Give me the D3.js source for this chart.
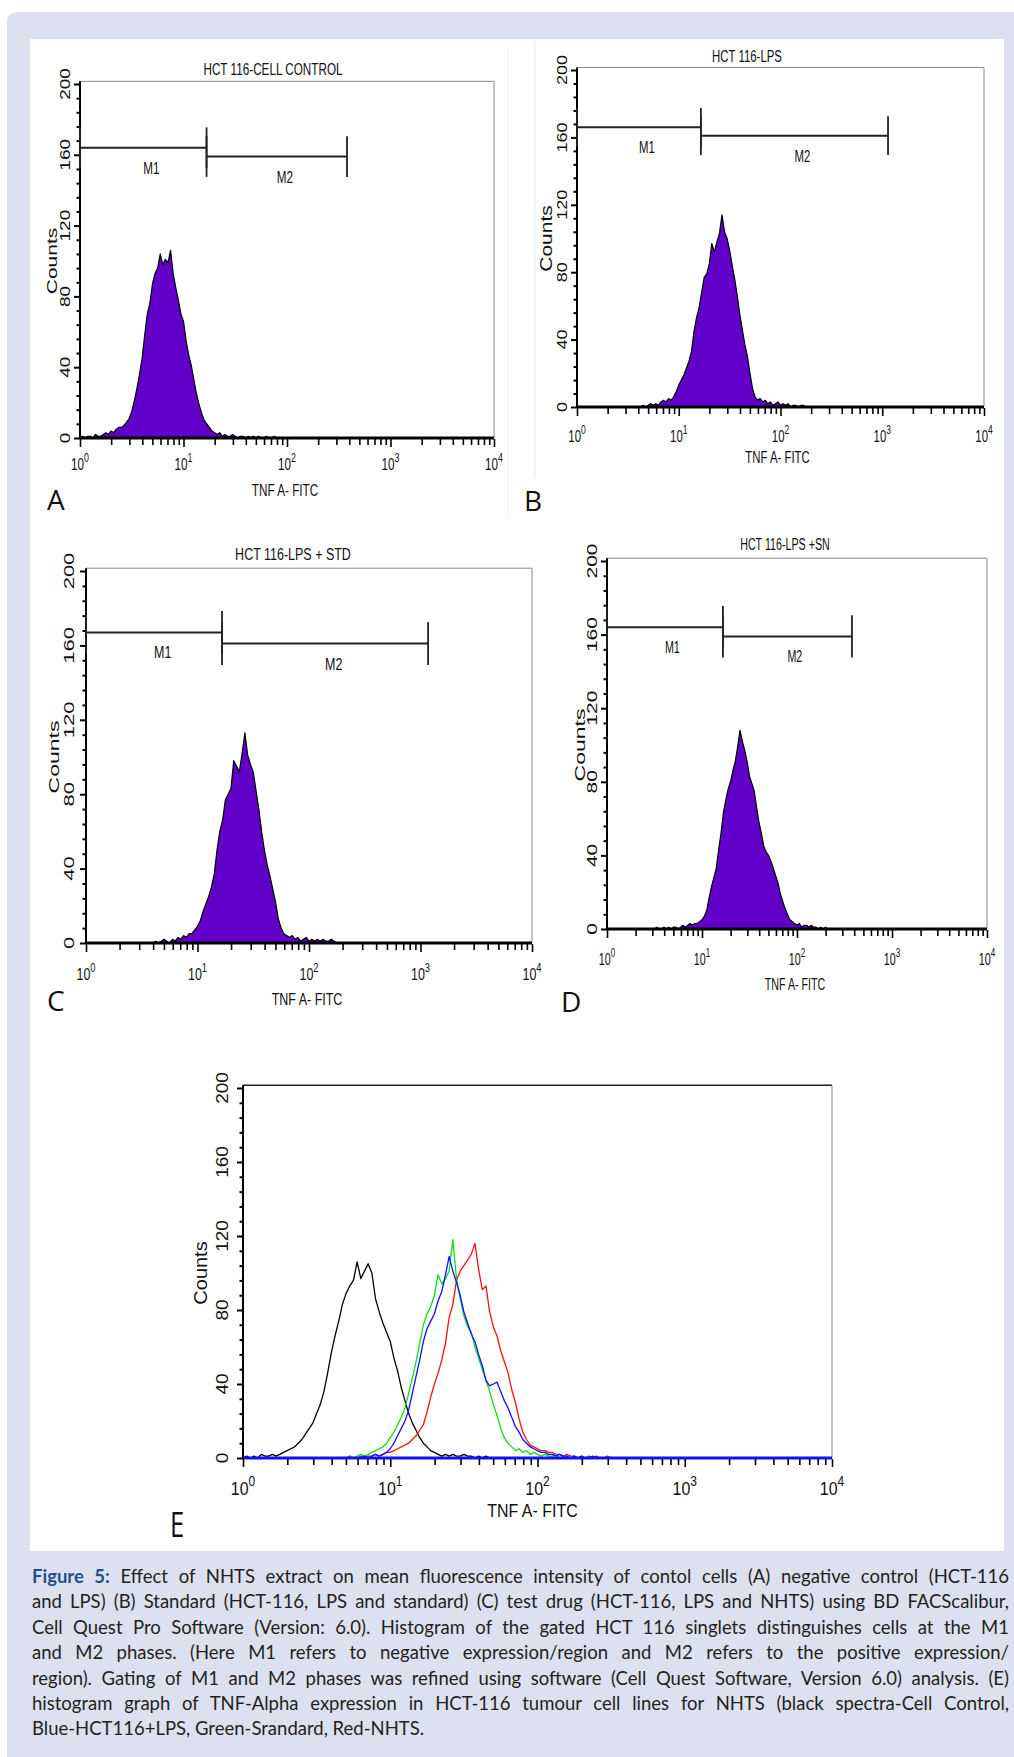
<!DOCTYPE html>
<html><head><meta charset="utf-8">
<script src="https://cdn.jsdelivr.net/npm/d3@7"></script>
<style>body{margin:0;background:#fff}svg{display:block}</style>
</head><body><div id="c"></div>
<script>
// ---------------- DATA ----------------
const logStep = 0.025;               // channel width in decades
const decades = [1, 10, 100, 1000, 10000];
const decadeExponents = ["0", "1", "2", "3", "4"];
const yMajorTicks = [0, 40, 80, 120, 160, 200];
const markerNames = ["M1", "M2"];

const histA_start = 0.0;
const histA = [0,1,0,1,1,0,2,1,1,2,3,2,4,3,5,6,6,7,9,11,15,21,28,36,45,58,70,76,87,93,96,104,98,101,99,106,93,85,78,70,66,55,47,41,33,25,19,14,10,8,6,4,3,2,3,1,2,1,1,2,1,0,1,1,0,1,0,1,0,1,0,0,1,0,0,1,0];
const histB_start = 0.6;
const histB = [0,0,1,0,1,2,1,2,1,3,4,3,5,4,6,9,13,16,19,23,27,33,45,53,59,68,77,79,85,97,92,98,103,114,104,100,93,84,76,66,55,46,37,30,20,11,6,4,5,3,4,2,3,1,2,3,1,2,1,2,0,1,1,0,1,1,0];
const histC_start = 0.6;
const histC = [0,1,0,1,2,1,0,2,1,3,2,4,3,5,5,7,9,12,17,21,25,30,37,50,60,66,77,80,83,98,95,92,102,113,101,96,92,82,72,60,50,42,36,29,22,13,8,5,4,3,4,2,3,1,2,3,1,2,1,2,1,2,1,1,2,1,0];
const histD_start = 0.5;
const histD = [0,1,0,0,1,0,1,0,1,1,0,1,2,1,2,3,2,3,3,4,5,7,10,17,23,28,33,43,52,63,70,76,80,86,91,99,108,102,97,91,83,79,75,66,58,52,45,42,40,37,33,29,25,19,15,11,8,5,4,3,2,3,1,2,2,1,2,1,1,0,1,0,1,0];

const overlayBlack_start = 0.0;
const overlayBlack = [0,1,0,1,0,2,1,1,2,1,2,3,4,5,6,8,10,13,16,19,24,29,36,46,57,66,74,83,89,93,96,106,97,101,105,100,86,79,73,68,63,54,47,38,31,24,19,15,11,8,6,4,3,2,1,2,1,2,1,1,2,1,1,0,1,0,1,0,0];
const overlayRed_start = 0.7;
const overlayRed = [0,1,0,0,1,0,1,1,2,1,2,3,3,4,5,6,7,8,10,12,15,18,25,33,40,46,53,62,76,83,96,101,104,107,110,116,102,91,93,79,71,66,58,52,46,37,30,21,14,10,7,6,5,4,4,3,3,2,2,1,2,1,1,0,1,0,1,0,1,0,0,1,0];
const overlayGreen_start = 0.7;
const overlayGreen = [0,1,0,1,2,1,2,3,4,5,6,8,11,14,18,22,27,35,43,52,62,72,78,82,88,99,94,97,101,118,97,86,77,71,68,60,54,48,42,36,29,23,16,11,8,6,4,5,3,4,2,3,2,1,2,1,1,2,0,1,1,0,1,0,0];
const overlayBlue_start = 0.8;
const overlayBlue = [0,1,0,1,2,1,2,3,5,8,12,16,20,26,35,44,53,63,70,74,78,85,90,99,109,101,95,88,79,73,67,63,56,50,42,39,40,41,36,31,27,22,17,14,10,8,6,5,4,3,3,2,2,1,2,1,1,0,1,0,1,0,0,1,0];

// marker gates (FITC values) and marker levels (counts)
const gatesA = [[1, 16.7], [16.7, 380]];   const levelsA = [164, 159];
const gatesB = [[1, 16.5], [16.5, 1140]];  const levelsB = [166, 161];
const gatesC = [[1, 16.6], [16.6, 1170]];  const levelsC = [167, 161];
const gatesD = [[1, 16.6], [16.6, 379]];   const levelsD = [164, 159];

const titles = ["HCT 116-CELL CONTROL", "HCT 116-LPS", "HCT 116-LPS + STD", "HCT 116-LPS +SN"];
const panelLetters = ["A", "B", "C", "D", "E"];
const xLabel = "TNF A- FITC";
const yLabel = "Counts";

const captionLines = [
  "Figure 5: Effect of NHTS extract on mean fluorescence intensity of contol cells (A) negative control (HCT-116",
  "and LPS) (B) Standard (HCT-116, LPS and standard) (C) test drug (HCT-116, LPS and NHTS) using BD FACScalibur,",
  "Cell Quest Pro Software (Version: 6.0). Histogram of the gated HCT 116 singlets distinguishes cells at the M1",
  "and M2 phases. (Here M1 refers to negative expression/region and M2 refers to the positive expression/",
  "region). Gating of M1 and M2 phases was refined using software (Cell Quest Software, Version 6.0) analysis. (E)",
  "histogram graph of TNF-Alpha expression in HCT-116 tumour cell lines for NHTS (black spectra-Cell Control,",
  "Blue-HCT116+LPS, Green-Srandard, Red-NHTS."
];

// ---------------- LAYOUT ----------------
const W = 1014, H = 1757;
const FONT = "'Liberation Sans', Arial, Helvetica, sans-serif";
const PURPLE = "#6000c8";
const frameTop = 201.5;
const barHalf = 11.5;

const svg = d3.select("#c").append("svg").attr("width", W).attr("height", H);
svg.append("rect").attr("width", W).attr("height", H).attr("fill", "#fff");
svg.append("rect").attr("x", 7).attr("y", 12).attr("width", W + 20).attr("height", H + 20).attr("rx", 9).attr("fill", "#dde1ef");
svg.append("rect").attr("x", 30).attr("y", 39).attr("width", 974).attr("height", 1512).attr("fill", "#fff");
// faint sub-image borders
svg.append("line").attr("x1", 508).attr("x2", 508).attr("y1", 47).attr("y2", 518).attr("stroke", "#ececec");
svg.append("line").attr("x1", 535).attr("x2", 535).attr("y1", 40).attr("y2", 478).attr("stroke", "#ececec");

function hText(g, x, y, sx, size, anchor) {
  return g.append("text").attr("transform", `translate(${x},${y}) scale(${sx},1)`)
    .attr("text-anchor", anchor || "middle").attr("font-family", FONT).attr("font-size", size).attr("fill", "#111");
}
function vText(g, x, y, k, size) {
  return g.append("text").attr("transform", `translate(${x},${y}) rotate(-90) scale(1,${k})`)
    .attr("text-anchor", "middle").attr("font-family", FONT).attr("font-size", size).attr("fill", "#111");
}

function drawPanel(p) {
  const g = svg.append("g");
  const x = d3.scaleLog().domain([1, 1e4]).range([p.x0, p.x1]);
  const y = d3.scaleLinear().domain([0, 200]).range([p.y0, p.y200]);
  const top = y(frameTop);

  // frame top / right
  g.append("line").attr("x1", x(1)).attr("x2", x(1e4)).attr("y1", top).attr("y2", top)
    .attr("stroke", p.topColor).attr("stroke-width", p.topW);
  g.append("line").attr("x1", x(1e4)).attr("x2", x(1e4)).attr("y1", top).attr("y2", y(0))
    .attr("stroke", "#8a8a8a").attr("stroke-width", 1);

  // histograms
  p.series.forEach(s => {
    const pts = [[1, 0]].concat(s.counts.map((c, i) => [Math.pow(10, s.start + i * logStep), c]), [[1e4, 0]]);
    if (s.fill) {
      g.append("path").datum(pts)
        .attr("d", d3.area().x(d => x(d[0])).y0(y(0)).y1(d => y(d[1])))
        .attr("fill", s.fill);
    }
    g.append("path").datum(pts)
      .attr("d", d3.line().x(d => x(d[0])).y(d => y(d[1])))
      .attr("fill", "none").attr("stroke", s.color).attr("stroke-width", s.w || 1.2).attr("stroke-linejoin", "round");
  });
  // zero-count channels baseline
  g.append("line").attr("x1", x(1)).attr("x2", x(1e4)).attr("y1", y(0)).attr("y2", y(0))
    .attr("stroke", p.baseColor).attr("stroke-width", 2.8);

  // x axis ticks
  const minorX = [];
  [1, 10, 100, 1000].forEach(d => { for (let m = 2; m <= 9; m++) minorX.push(d * m); });
  const axMaj = g.append("g").attr("transform", `translate(0,${y(0) + 1})`)
    .call(d3.axisBottom(x).tickValues(decades).tickSize(8).tickSizeOuter(0).tickFormat(() => ""));
  const axMin = g.append("g").attr("transform", `translate(0,${y(0) + 1})`)
    .call(d3.axisBottom(x).tickValues(minorX).tickSize(6).tickSizeOuter(0).tickFormat(() => ""));
  [axMaj, axMin].forEach(a => { a.select(".domain").remove(); a.selectAll("line").attr("stroke", "#000").attr("stroke-width", 1.6); });

  // y axis
  g.append("line").attr("x1", x(1)).attr("x2", x(1)).attr("y1", top).attr("y2", y(0) + 1)
    .attr("stroke", "#000").attr("stroke-width", 2);
  const minorY = d3.range(8, 200, 8).filter(v => v % 40 !== 0);
  const ayMaj = g.append("g").attr("transform", `translate(${x(1)},0)`)
    .call(d3.axisLeft(y).tickValues(yMajorTicks).tickSize(6).tickSizeOuter(0).tickFormat(() => ""));
  const ayMin = g.append("g").attr("transform", `translate(${x(1)},0)`)
    .call(d3.axisLeft(y).tickValues(minorY).tickSize(3.5).tickSizeOuter(0).tickFormat(() => ""));
  [ayMaj, ayMin].forEach(a => { a.select(".domain").remove(); a.selectAll("line").attr("stroke", "#000").attr("stroke-width", 2); });

  // x tick labels 10^n
  decades.forEach((v, i) => {
    const t = hText(g, x(v), p.tickLabY, p.sx, p.fs);
    t.append("tspan").text("10");
    t.append("tspan").attr("dy", -0.45 * p.fs).attr("font-size", p.fs * 0.75).text(decadeExponents[i]);
  });
  // y tick labels
  yMajorTicks.forEach(v => { vText(g, p.ytlX, y(v), p.k, p.rfs).text(String(v)); });
  // axis titles
  vText(g, p.countsX, (y(0) + y(200)) / 2, p.k, p.cfs).text(yLabel);
  hText(g, (x(1) + x(1e4)) / 2 + p.tnfDx, p.axisLabY, p.sx, p.fs).text(xLabel);
  if (p.title) hText(g, p.titleX, p.titleY, p.sx, p.fs).text(p.title);

  // markers
  if (p.gates) {
    p.gates.forEach((gt, i) => {
      const lv = p.levels[i];
      g.append("line").attr("x1", x(gt[0])).attr("x2", x(gt[1])).attr("y1", y(lv)).attr("y2", y(lv))
        .attr("stroke", "#222").attr("stroke-width", 2);
      gt.forEach(v => {
        g.append("line").attr("x1", x(v)).attr("x2", x(v)).attr("y1", y(lv + barHalf)).attr("y2", y(lv - barHalf))
          .attr("stroke", "#222").attr("stroke-width", 1.8);
      });
      const mid = Math.pow(10, (Math.log10(gt[0]) + Math.log10(gt[1])) / 2);
      hText(g, x(mid), y(lv) + 26, p.sx, p.fs, "start").text(markerNames[i]);
    });
  }
  // panel letter
  g.append("text").attr("transform", `translate(${p.lx},${p.ly}) scale(${p.lsx},1)`)
    .attr("font-family", "'Open Sans', 'Noto Sans', sans-serif").attr("font-size", p.lfs).attr("fill", "#111")
    .text(p.letter);
}

const fillSeries = (start, counts) => [{ start: start, counts: counts, fill: PURPLE, color: "#000", w: 1.2 }];

const panels = [
  { x0: 80, x1: 494, y0: 438, y200: 84, title: titles[0], titleX: 273, titleY: 75, sx: 0.69, fs: 17,
    tickLabY: 470, axisLabY: 496, tnfDx: -2, ytlX: 70, countsX: 57, rfs: 19, cfs: 21, k: 0.73,
    letter: panelLetters[0], lx: 47, ly: 510, lfs: 28, lsx: 1, topColor: "#8a8a8a", topW: 1, baseColor: "#000",
    series: fillSeries(histA_start, histA), gates: gatesA, levels: levelsA },
  { x0: 577, x1: 984, y0: 407, y200: 70, title: titles[1], titleX: 747, titleY: 62, sx: 0.67, fs: 17,
    tickLabY: 442, axisLabY: 463, tnfDx: -3, ytlX: 567, countsX: 552, rfs: 18, cfs: 21, k: 0.78,
    letter: panelLetters[1], lx: 524, ly: 511, lfs: 28, lsx: 1, topColor: "#8a8a8a", topW: 1, baseColor: "#000",
    series: fillSeries(histB_start, histB), gates: gatesB, levels: levelsB },
  { x0: 86, x1: 532, y0: 943, y200: 571, title: titles[2], titleX: 293, titleY: 560, sx: 0.735, fs: 17,
    tickLabY: 980, axisLabY: 1005, tnfDx: -2, ytlX: 74, countsX: 58.5, rfs: 22, cfs: 23, k: 0.66,
    letter: panelLetters[2], lx: 47, ly: 1011, lfs: 28, lsx: 1, topColor: "#8a8a8a", topW: 1, baseColor: "#000",
    series: fillSeries(histC_start, histC), gates: gatesC, levels: levelsC },
  { x0: 607, x1: 987, y0: 929, y200: 561, title: titles[3], titleX: 785, titleY: 550, sx: 0.63, fs: 17,
    tickLabY: 965, axisLabY: 990, tnfDx: -2, ytlX: 597, countsX: 585, rfs: 21, cfs: 23, k: 0.67,
    letter: panelLetters[3], lx: 561, ly: 1012, lfs: 28, lsx: 1, topColor: "#8a8a8a", topW: 1, baseColor: "#000",
    series: fillSeries(histD_start, histD), gates: gatesD, levels: levelsD },
  { x0: 243, x1: 832, y0: 1458, y200: 1088, title: null, sx: 0.84, fs: 19,
    tickLabY: 1495, axisLabY: 1517, tnfDx: -5, ytlX: 228, countsX: 207, rfs: 19, cfs: 20, k: 0.88,
    letter: panelLetters[4], lx: 170, ly: 1537, lfs: 34, lsx: 0.75, topColor: "#222", topW: 1.4, baseColor: "#1010ff",
    series: [
      { start: overlayBlack_start, counts: overlayBlack, color: "#000", w: 1.3 },
      { start: overlayRed_start, counts: overlayRed, color: "#ff1010", w: 1.3 },
      { start: overlayGreen_start, counts: overlayGreen, color: "#10dd10", w: 1.3 },
      { start: overlayBlue_start, counts: overlayBlue, color: "#1010ff", w: 1.3 }
    ] }
];
panels.forEach(drawPanel);

// ---------------- CAPTION ----------------
const capX = 32, capW = 977, capY0 = 1583, capDy = 25.4;
captionLines.forEach((ln, i) => {
  const t = svg.append("text").attr("x", capX).attr("y", capY0 + i * capDy)
    .attr("font-family", "Lato, 'Open Sans', sans-serif").attr("font-size", 18.5).attr("fill", "#231f20");
  if (i === 0) {
    t.append("tspan").attr("font-weight", "bold").attr("fill", "#1f4f8f").text(ln.slice(0, 9));
    t.append("tspan").text(ln.slice(9));
  } else {
    t.text(ln);
  }
  if (i < captionLines.length - 1) {
    const nat = t.node().getComputedTextLength();
    const spaces = (ln.match(/ /g) || []).length;
    const extra = capW - nat;
    if (extra >= 0) t.style("word-spacing", (extra / spaces) + "px");
    else t.attr("textLength", capW).attr("lengthAdjust", "spacingAndGlyphs");
  }
});
</script>
</body></html>
